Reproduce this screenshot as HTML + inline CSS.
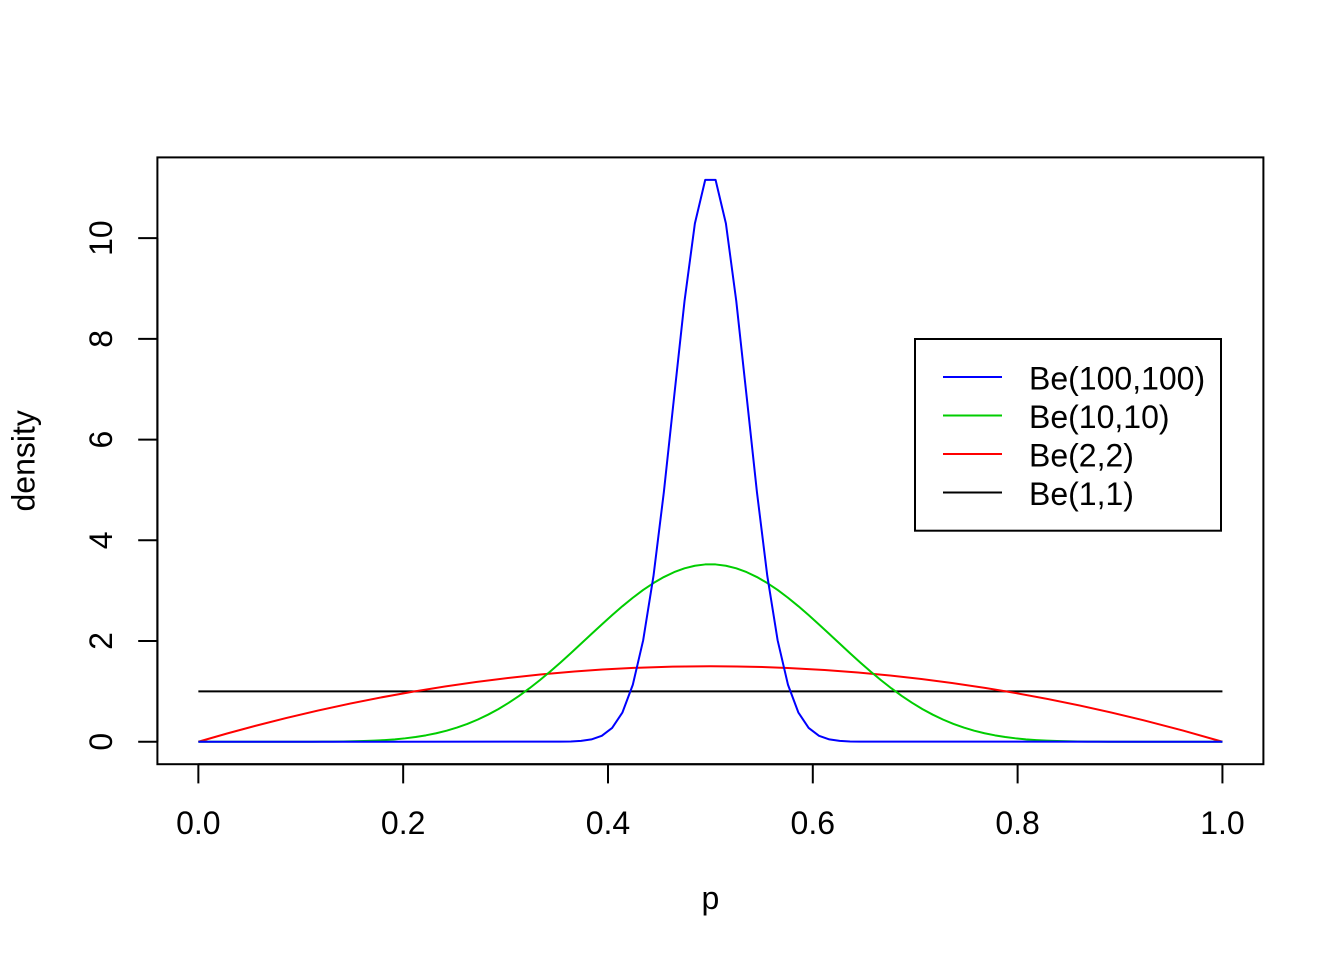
<!DOCTYPE html>
<html>
<head>
<meta charset="utf-8">
<style>
  html, body { margin: 0; padding: 0; background: #ffffff; }
  svg { display: block; }
  text { font-family: "Liberation Sans", Arial, Helvetica, sans-serif; font-size: 32px; fill: #000; }
</style>
</head>
<body>
<svg width="1344" height="960" viewBox="0 0 1344 960" xmlns="http://www.w3.org/2000/svg">
  <rect x="0" y="0" width="1344" height="960" fill="#ffffff"/>

  <!-- Be(1,1) -->
  <line x1="198.36" y1="691.37" x2="1222.43" y2="691.37" stroke="#000000" stroke-width="2"/>

  <!-- Be(2,2) -->
  <path d="M198.36,741.73 Q710.40,590.65 1222.43,741.73" fill="none" stroke="#FF0000" stroke-width="2"/>

  <!-- Be(10,10) -->
  <polyline fill="none" stroke="#00CD00" stroke-width="2" stroke-linejoin="round" points="
    198.36,741.73 291.46,741.73 301.80,741.71 312.14,741.69 322.49,741.65 332.83,741.58 343.18,741.46
    353.52,741.28 363.86,741.01 374.21,740.62 384.55,740.07 394.90,739.32 405.24,738.31 415.59,737.00
    425.93,735.33 436.27,733.24 446.62,730.67 456.96,727.58 467.31,723.91 477.65,719.63 487.99,714.69
    498.34,709.09 508.68,702.83 519.03,695.91 529.37,688.37 539.72,680.25 550.06,671.63 560.40,662.58
    570.75,653.21 581.09,643.65 591.44,634.02 601.78,624.47 612.13,615.13 622.47,606.17 632.81,597.74
    643.16,589.98 653.50,583.04 663.85,577.04 674.19,572.09 684.53,568.30 694.88,565.73 705.22,564.43
    715.57,564.43 725.91,565.73 736.26,568.30 746.60,572.09 756.94,577.04 767.29,583.04 777.63,589.98
    787.98,597.74 798.32,606.17 808.67,615.13 819.01,624.47 829.35,634.02 839.70,643.65 850.04,653.21
    860.39,662.58 870.73,671.63 881.07,680.25 891.42,688.37 901.76,695.91 912.11,702.83 922.45,709.09
    932.80,714.69 943.14,719.63 953.48,723.91 963.83,727.58 974.17,730.67 984.52,733.24 994.86,735.33
    1005.21,737.00 1015.55,738.31 1025.89,739.32 1036.24,740.07 1046.58,740.62 1056.93,741.01 1067.27,741.28
    1077.61,741.46 1087.96,741.58 1098.30,741.65 1108.65,741.69 1118.99,741.71 1129.33,741.73 1222.43,741.73"/>

  <!-- Be(100,100) -->
  <polyline fill="none" stroke="#0000FF" stroke-width="2" stroke-linejoin="round" points="
    198.36,741.73 560.40,741.65 570.75,741.46 581.09,740.90 591.44,739.39 601.78,735.78 612.13,727.91
    622.47,712.41 632.81,684.78 643.16,640.30 653.50,575.82 663.85,492.16 674.19,396.17 684.53,301.00
    694.88,223.53 705.22,179.91 715.57,179.91 725.91,223.53 736.26,301.00 746.60,396.17 756.94,492.16
    767.29,575.82 777.63,640.30 787.98,684.78 798.32,712.41 808.67,727.91 819.01,735.78 829.35,739.39
    839.70,740.90 850.04,741.46 860.39,741.65 1222.43,741.73"/>

  <!-- plot box -->
  <rect x="157.4" y="157.4" width="1106" height="606.8" fill="none" stroke="#000" stroke-width="2"/>

  <!-- x axis -->
  <g stroke="#000" stroke-width="2">
    <line x1="198.36" y1="764.2" x2="1222.43" y2="764.2"/>
    <line x1="198.36" y1="764.2" x2="198.36" y2="783.4"/>
    <line x1="403.17" y1="764.2" x2="403.17" y2="783.4"/>
    <line x1="607.99" y1="764.2" x2="607.99" y2="783.4"/>
    <line x1="812.80" y1="764.2" x2="812.80" y2="783.4"/>
    <line x1="1017.61" y1="764.2" x2="1017.61" y2="783.4"/>
    <line x1="1222.43" y1="764.2" x2="1222.43" y2="783.4"/>
  </g>
  <g text-anchor="middle">
    <text x="198.36" y="834">0.0</text>
    <text x="403.17" y="834">0.2</text>
    <text x="607.99" y="834">0.4</text>
    <text x="812.80" y="834">0.6</text>
    <text x="1017.61" y="834">0.8</text>
    <text x="1222.43" y="834">1.0</text>
  </g>

  <!-- y axis -->
  <g stroke="#000" stroke-width="2">
    <line x1="157.4" y1="741.73" x2="157.4" y2="238.13"/>
    <line x1="157.4" y1="741.73" x2="138.2" y2="741.73"/>
    <line x1="157.4" y1="641.01" x2="138.2" y2="641.01"/>
    <line x1="157.4" y1="540.29" x2="138.2" y2="540.29"/>
    <line x1="157.4" y1="439.57" x2="138.2" y2="439.57"/>
    <line x1="157.4" y1="338.85" x2="138.2" y2="338.85"/>
    <line x1="157.4" y1="238.13" x2="138.2" y2="238.13"/>
  </g>
  <g text-anchor="middle">
    <text x="112" y="741.73" transform="rotate(-90 112 741.73)">0</text>
    <text x="112" y="641.01" transform="rotate(-90 112 641.01)">2</text>
    <text x="112" y="540.29" transform="rotate(-90 112 540.29)">4</text>
    <text x="112" y="439.57" transform="rotate(-90 112 439.57)">6</text>
    <text x="112" y="338.85" transform="rotate(-90 112 338.85)">8</text>
    <text x="112" y="238.13" transform="rotate(-90 112 238.13)">10</text>
  </g>

  <!-- axis titles -->
  <text x="710.4" y="909" text-anchor="middle">p</text>
  <text x="34.5" y="460.8" text-anchor="middle" transform="rotate(-90 34.5 460.8)">density</text>

  <!-- legend -->
  <rect x="915" y="339" width="306" height="191.7" fill="#ffffff" stroke="#000" stroke-width="2"/>
  <line x1="943" y1="377" x2="1002" y2="377" stroke="#0000FF" stroke-width="2"/>
  <line x1="943" y1="415.5" x2="1002" y2="415.5" stroke="#00CD00" stroke-width="2"/>
  <line x1="943" y1="454" x2="1002" y2="454" stroke="#FF0000" stroke-width="2"/>
  <line x1="943" y1="492.5" x2="1002" y2="492.5" stroke="#000000" stroke-width="2"/>
  <text x="1029" y="389.5">Be(100,100)</text>
  <text x="1029" y="428">Be(10,10)</text>
  <text x="1029" y="466.5">Be(2,2)</text>
  <text x="1029" y="505">Be(1,1)</text>
</svg>
</body>
</html>
